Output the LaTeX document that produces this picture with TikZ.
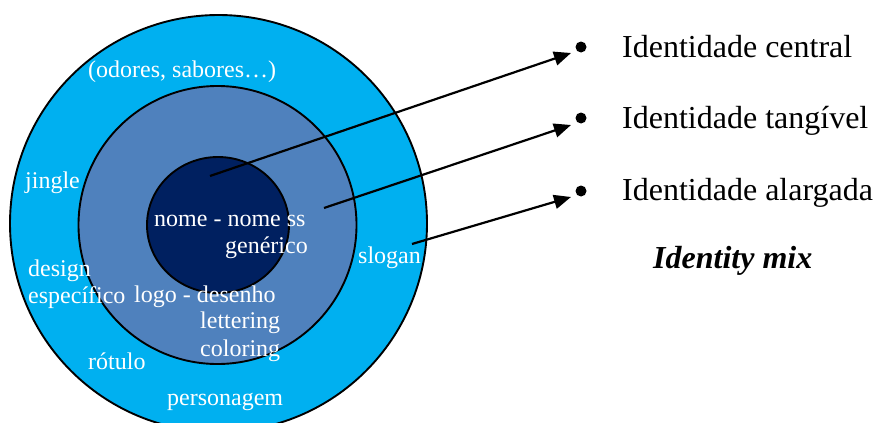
\documentclass[tikz,border=0pt]{standalone}
\usepackage{fontspec}
\setmainfont{Liberation Serif}
\usetikzlibrary{arrows.meta}
\definecolor{outerblue}{HTML}{00B0F0}
\definecolor{midblue}{HTML}{4F81BD}
\definecolor{innerblue}{HTML}{002060}
\tikzset{
  ring/.style={draw=black, line width=1.9pt},
  wlabel/.style={text=white, inner sep=0pt, anchor=base west, font=\fontsize{24}{28}\selectfont},
  blabel/.style={text=black, inner sep=0pt, anchor=base west, font=\fontsize{32}{38}\selectfont},
  bulletdot/.style={circle, fill=black, inner sep=0pt, minimum size=11pt},
  pointer/.style={line width=2.2pt, -{Triangle[length=17pt,width=14pt]}}
}
\begin{document}
\begin{tikzpicture}[x=1pt,y=-1pt]
\useasboundingbox (0,0) rectangle (876,423);
\begin{scope}
\clip (0,0) rectangle (876,423);
\fill[white] (0,0) rectangle (876,423);
\draw[ring, fill=outerblue] (218.5,223.5) circle[radius=208.5pt];
\draw[ring, fill=midblue] (217.5,225) circle[radius=139pt];
\draw[ring, fill=innerblue] (218,225) ellipse[x radius=71pt, y radius=68pt];
\end{scope}
% white labels
\node[wlabel] (odores) at (88,77) {(odores, sabores\ldots)};
\node[wlabel] (jingle) at (25,188) {jingle};
\node[wlabel] (nome) at (154,226) {nome - nome ss};
\node[wlabel, anchor=base east] (generico) at (308,253) {genérico};
\node[wlabel] (slogan) at (358,263) {slogan};
\node[wlabel] (design) at (28,276) {design};
\node[wlabel] (especifico) at (28,303) {específico};
\node[wlabel] (logo) at (134,302) {logo - desenho};
\node[wlabel] (lettering) at (200,328) {lettering};
\node[wlabel] (coloring) at (200,356) {coloring};
\node[wlabel] (rotulo) at (88,369) {rótulo};
\node[wlabel] (personagem) at (167,405) {personagem};
% bullets and black labels
\node[bulletdot] (b1) at (581,47) {};
\node[bulletdot] (b2) at (581,118) {};
\node[bulletdot] (b3) at (581,191) {};
\node[blabel] (central) at (622,57) {Identidade central};
\node[blabel] (tangivel) at (622,128) {Identidade tangível};
\node[blabel] (alargada) at (622,200) {Identidade alargada};
\node[blabel, font=\fontsize{32}{38}\selectfont\bfseries\itshape] (mix) at (653,268) {Identity mix};
% arrows
\coordinate (s1) at (210,176);
\coordinate (s2) at (324,208);
\coordinate (s3) at (412,244);
\coordinate (t1) at (571,53);
\coordinate (t2) at (571,125);
\coordinate (t3) at (571,197);
\draw[pointer] (s1) -- (t1);
\draw[pointer] (s2) -- (t2);
\draw[pointer] (s3) -- (t3);
\end{tikzpicture}
\end{document}
